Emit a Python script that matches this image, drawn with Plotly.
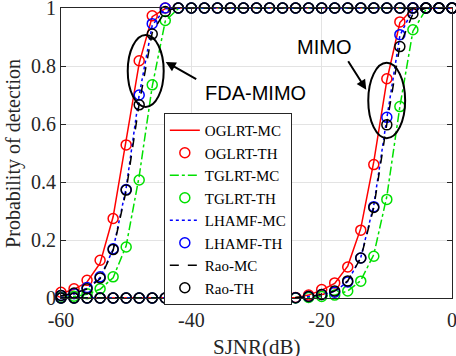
import plotly.graph_objects as go

sjnr = [-60, -58, -56, -54, -52, -50, -48, -46, -44, -42, -40, -38, -36, -34, -32, -30,
        -28, -26, -24, -22, -20, -18, -16, -14, -12, -10, -8, -6, -4, -2, 0]
x_ticks = [-60, -40, -20, 0]
x_tick_labels = ["-60", "-40", "-20", "0"]
y_ticks = [0, 0.2, 0.4, 0.6, 0.8, 1]
y_tick_labels = ["0", "0.2", "0.4", "0.6", "0.8", "1"]

# FDA-MIMO curves
og_fda_mc = [0.015, 0.030, 0.055, 0.120, 0.280, 0.540, 0.810, 0.970, 0.998, 1, 1, 1, 1, 1, 1, 1,
             1, 1, 1, 1, 1, 1, 1, 1, 1, 1, 1, 1, 1, 1, 1]
og_fda_th = [0.020, 0.032, 0.061, 0.130, 0.274, 0.528, 0.818, 0.973, 1, 1, 1, 1, 1, 1, 1, 1,
             1, 1, 1, 1, 1, 1, 1, 1, 1, 1, 1, 1, 1, 1, 1]
tg_fda_mc = [0.002, 0.005, 0.013, 0.030, 0.070, 0.180, 0.420, 0.730, 0.955, 0.998, 1, 1, 1, 1, 1, 1,
             1, 1, 1, 1, 1, 1, 1, 1, 1, 1, 1, 1, 1, 1, 1]
tg_fda_th = [0.003, 0.006, 0.015, 0.032, 0.073, 0.176, 0.407, 0.735, 0.957, 1, 1, 1, 1, 1, 1, 1,
             1, 1, 1, 1, 1, 1, 1, 1, 1, 1, 1, 1, 1, 1, 1]
lh_fda_mc = [0.007, 0.014, 0.034, 0.070, 0.168, 0.380, 0.700, 0.940, 0.998, 1, 1, 1, 1, 1, 1, 1,
             1, 1, 1, 1, 1, 1, 1, 1, 1, 1, 1, 1, 1, 1, 1]
lh_fda_th = [0.009, 0.015, 0.036, 0.073, 0.170, 0.374, 0.700, 0.946, 1, 1, 1, 1, 1, 1, 1, 1,
             1, 1, 1, 1, 1, 1, 1, 1, 1, 1, 1, 1, 1, 1, 1]
rao_fda_mc = [0.008, 0.016, 0.031, 0.066, 0.165, 0.370, 0.670, 0.915, 0.990, 1, 1, 1, 1, 1, 1, 1,
              1, 1, 1, 1, 1, 1, 1, 1, 1, 1, 1, 1, 1, 1, 1]
rao_fda_th = [0.009, 0.017, 0.032, 0.069, 0.167, 0.372, 0.666, 0.910, 0.988, 1, 1, 1, 1, 1, 1, 1,
              1, 1, 1, 1, 1, 1, 1, 1, 1, 1, 1, 1, 1, 1, 1]

# MIMO curves
og_mimo_mc = [0, 0, 0, 0, 0, 0, 0, 0, 0, 0, 0, 0, 0, 0, 0, 0, 0, 0, 0.002, 0.010,
              0.027, 0.050, 0.110, 0.240, 0.470, 0.750, 0.950, 0.998, 1, 1, 1]
og_mimo_th = [0, 0, 0, 0, 0, 0, 0, 0, 0, 0, 0, 0, 0, 0, 0, 0, 0, 0, 0.002, 0.010,
              0.029, 0.052, 0.107, 0.234, 0.460, 0.756, 0.952, 1, 1, 1, 1]
tg_mimo_mc = [0, 0, 0, 0, 0, 0, 0, 0, 0, 0, 0, 0, 0, 0, 0, 0, 0, 0, 0, 0.002,
              0.005, 0.010, 0.024, 0.060, 0.150, 0.350, 0.660, 0.920, 0.995, 1, 1]
tg_mimo_th = [0, 0, 0, 0, 0, 0, 0, 0, 0, 0, 0, 0, 0, 0, 0, 0, 0, 0, 0, 0.002,
              0.005, 0.010, 0.024, 0.058, 0.144, 0.340, 0.660, 0.925, 1, 1, 1]
lh_mimo_mc = [0, 0, 0, 0, 0, 0, 0, 0, 0, 0, 0, 0, 0, 0, 0, 0, 0, 0, 0.001, 0.005,
              0.012, 0.022, 0.057, 0.140, 0.320, 0.620, 0.905, 0.995, 1, 1, 1]
lh_mimo_th = [0, 0, 0, 0, 0, 0, 0, 0, 0, 0, 0, 0, 0, 0, 0, 0, 0, 0, 0.001, 0.005,
              0.012, 0.020, 0.055, 0.138, 0.315, 0.623, 0.908, 1, 1, 1, 1]
rao_mimo_mc = [0, 0, 0, 0, 0, 0, 0, 0, 0, 0, 0, 0, 0, 0, 0, 0, 0, 0, 0.001, 0.005,
               0.012, 0.024, 0.059, 0.138, 0.312, 0.600, 0.870, 0.980, 1, 1, 1]
rao_mimo_th = [0, 0, 0, 0, 0, 0, 0, 0, 0, 0, 0, 0, 0, 0, 0, 0, 0, 0, 0.001, 0.005,
               0.012, 0.024, 0.059, 0.138, 0.312, 0.597, 0.867, 0.980, 1, 1, 1]

series = [
    ("OGLRT", "red", "solid", og_fda_mc, og_fda_th, og_mimo_mc, og_mimo_th),
    ("TGLRT", "#00e000", "dashdot", tg_fda_mc, tg_fda_th, tg_mimo_mc, tg_mimo_th),
    ("LHAMF", "blue", "dot", lh_fda_mc, lh_fda_th, lh_mimo_mc, lh_mimo_th),
    ("Rao", "black", "dash", rao_fda_mc, rao_fda_th, rao_mimo_mc, rao_mimo_th),
]

SERIF = "Liberation Serif"

fig = go.Figure()
for name, col, dash, fmc, fth, mmc, mth in series:
    for i, mc in enumerate([fmc, mmc]):
        fig.add_trace(go.Scatter(x=sjnr, y=mc, mode="lines", name=name + "-MC",
                                 showlegend=(i == 0),
                                 line=dict(color=col, dash=dash, width=1.5), cliponaxis=False))
    for i, th in enumerate([fth, mth]):
        fig.add_trace(go.Scatter(x=sjnr, y=th, mode="markers", name=name + "-TH",
                                 showlegend=(i == 0),
                                 marker=dict(symbol="circle-open", size=10, color=col,
                                             line=dict(width=1.5, color=col)),
                                 cliponaxis=False))

# ellipses around the curve groups
fig.add_shape(type="circle", x0=-49.76, x1=-44.24, y0=0.659, y1=0.907,
              line=dict(color="black", width=2))
fig.add_shape(type="circle", x0=-12.85, x1=-7.19, y0=0.551, y1=0.811,
              line=dict(color="black", width=2))

fig.add_annotation(x=-43.93, y=0.814, ax=32, ay=18, text="", showarrow=True,
                   arrowhead=2, arrowsize=1, arrowwidth=2, arrowcolor="black")
fig.add_annotation(x=-13.16, y=0.718, ax=-19, ay=-30, text="", showarrow=True,
                   arrowhead=2, arrowsize=1, arrowwidth=2, arrowcolor="black")
fig.add_annotation(x=-30.15, y=0.707, text="FDA-MIMO", showarrow=False,
                   font=dict(family="Liberation Sans", size=20, color="black"))
fig.add_annotation(x=-19.6, y=0.866, text="MIMO", showarrow=False,
                   font=dict(family="Liberation Sans", size=20, color="black"))

# axis titles
fig.add_annotation(xref="paper", yref="paper", x=0.5, y=-0.17, yanchor="middle",
                   text="SJNR(dB)", showarrow=False,
                   font=dict(family=SERIF, size=21, color="#262626"))
fig.add_annotation(xref="paper", yref="paper", x=-0.123, y=0.5, xanchor="center",
                   text="Probability of detection", textangle=-90, showarrow=False,
                   font=dict(family=SERIF, size=20, color="#262626"))

axis_common = dict(showline=True, linecolor="#262626", linewidth=1, mirror="ticks",
                   ticks="inside", ticklen=5, tickcolor="#262626", automargin=False,
                   showgrid=True, gridcolor="#e3e3e3", gridwidth=1, zeroline=False,
                   ticklabeloverflow="allow",
                   tickfont=dict(family=SERIF, size=20, color="#262626"))

fig.update_xaxes(range=[-60, 0], tickvals=x_ticks, ticktext=x_tick_labels,
                 ticklabelstandoff=4, **axis_common)
fig.update_yaxes(range=[0, 1], tickvals=y_ticks, ticktext=y_tick_labels,
                 **axis_common)

fig.update_layout(
    width=456, height=356,
    margin=dict(l=61, r=4, t=8, b=58),
    plot_bgcolor="white", paper_bgcolor="white",
    font=dict(family=SERIF, color="#262626"),
    legend=dict(x=0.263, y=0.638, xanchor="left", yanchor="top",
                bgcolor="white", bordercolor="#262626", borderwidth=1,
                font=dict(family=SERIF, size=15, color="black"),
                tracegroupgap=0, itemwidth=30),
)

fig.write_html("out.html", config={"displayModeBar": False},
               post_script="document.body.style.margin='0';")
